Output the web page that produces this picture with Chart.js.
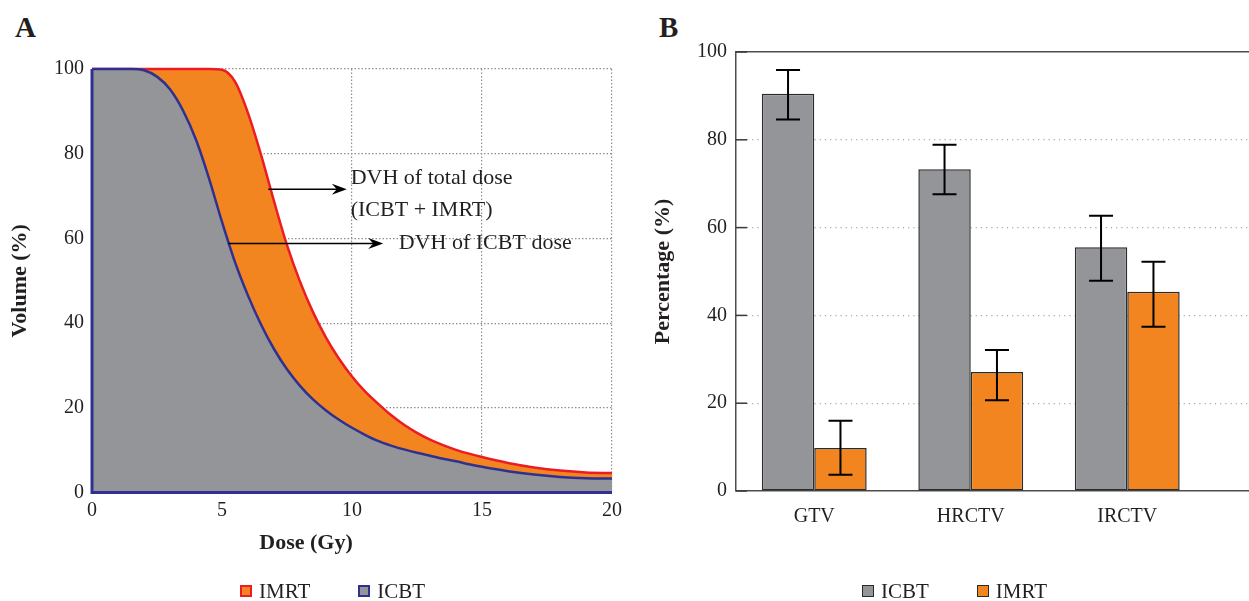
<!DOCTYPE html>
<html lang="en">
  <head>
    <meta charset="UTF-8" />
    <title>DVH and dose contribution</title>
    <script src="https://cdn.jsdelivr.net/npm/chart.js"></script>
    <style>
      html, body { margin: 0; padding: 0; background: #fff; overflow: hidden; }
      body {
        width: 1249px; height: 601px; position: relative;
        font-family: "Liberation Serif", serif; color: #231f20;
      }
      .panel-label { position: absolute; top: 11px; font-size: 29px; font-weight: bold; }
      #boxA { position: absolute; left: 0; top: 0; width: 640px; height: 601px; }
      #boxB { position: absolute; left: 640px; top: 0; width: 640px; height: 601px; }
      .legend {
        position: absolute; top: 579px; display: flex; gap: 48px;
        font-size: 21px; line-height: 24px; white-space: nowrap;
      }
      .legend .item { display: flex; align-items: center; }
      .legend .sw { display: inline-block; width: 12px; height: 12px; box-sizing: border-box; margin-right: 7px; }
    </style>
  </head>
  <body>
    <div class="panel-label" style="left: 15px">A</div>
    <div class="panel-label" style="left: 659px">B</div>
    <div id="boxA"><canvas id="chartA" width="640" height="601"></canvas></div>
    <div id="boxB"><canvas id="chartB" width="640" height="601"></canvas></div>
    <div class="legend" id="legendA" style="left: 240px"></div>
    <div class="legend" id="legendB" style="left: 862px"></div>

    <script>
      // panel A: dose-volume histogram
      const doses = [0, 0.5, 1, 1.5, 2, 2.5, 3, 3.5, 4, 4.5, 5, 5.5, 6, 6.5, 7, 7.5, 8, 8.5, 9, 9.5, 10, 10.5, 11, 11.5, 12, 12.5, 13, 13.5, 14, 14.5, 15, 16, 17, 18, 19, 20];
      const imrtVolume = [100, 100, 100, 100, 100, 100, 100, 100, 100, 100, 99.8, 97.0, 89.6, 79.8, 68.8, 58.4, 49.8, 42.6, 36.6, 31.6, 27.4, 23.9, 21.0, 18.3, 16.0, 14.1, 12.5, 11.2, 10.1, 9.2, 8.4, 7.0, 5.95, 5.2, 4.75, 4.6];
      const icbtVolume = [100, 100, 100, 100, 99.7, 98.2, 95.2, 90.2, 83.3, 74.2, 63.9, 54.4, 46.5, 39.7, 33.9, 29.1, 25.2, 22.0, 19.4, 17.2, 15.3, 13.65, 12.2, 11.1, 10.2, 9.4, 8.7, 8.0, 7.4, 6.7, 6.1, 5.05, 4.25, 3.7, 3.4, 3.3];

      // panel B: percentage per target volume (mean, error range)
      const categories = ["GTV", "HRCTV", "IRCTV"];
      const icbtMean = [90.5, 73.3, 55.5];
      const icbtLow = [84.6, 67.6, 47.9];
      const icbtHigh = [95.9, 78.9, 62.7];
      const imrtMean = [9.8, 27.1, 45.4];
      const imrtLow = [3.7, 20.7, 37.4];
      const imrtHigh = [16.0, 32.1, 52.2];

      // annotation text + arrows (data units)
      const arrowsA = [
        { x1: 6.78, x2: 9.8, y: 71.6 },
        { x1: 5.24, x2: 11.2, y: 58.8 },
      ];
      const notesA = [
        { x: 9.95, y: 74.2, text: "DVH of total dose" },
        { x: 9.95, y: 66.7, text: "(ICBT + IMRT)" },
        { x: 11.8, y: 58.8, text: "DVH of ICBT dose" },
      ];

      Chart.defaults.font.family = "'Liberation Serif', serif";
      Chart.defaults.font.size = 20;
      Chart.defaults.color = "#231f20";

      const ink = "#231f20";
      const serifBold = { family: "'Liberation Serif', serif", size: 22, weight: "bold" };

      const annotatePlugin = {
        id: "annotateA",
        afterDatasetsDraw(chart) {
          const { ctx, scales: { x, y } } = chart;
          ctx.save();
          ctx.strokeStyle = "#000";
          ctx.fillStyle = "#000";
          ctx.lineWidth = 1.5;
          arrowsA.forEach((a) => {
            const px1 = x.getPixelForValue(a.x1);
            const px2 = x.getPixelForValue(a.x2);
            const py = y.getPixelForValue(a.y);
            ctx.beginPath();
            ctx.moveTo(px1, py);
            ctx.lineTo(px2 - 8, py);
            ctx.stroke();
            ctx.beginPath();
            ctx.moveTo(px2, py);
            ctx.lineTo(px2 - 15, py - 5.5);
            ctx.lineTo(px2 - 10, py);
            ctx.lineTo(px2 - 15, py + 5.5);
            ctx.closePath();
            ctx.fill();
          });
          ctx.font = "22px 'Liberation Serif', serif";
          ctx.fillStyle = ink;
          ctx.textBaseline = "middle";
          notesA.forEach((n) => {
            ctx.fillText(n.text, x.getPixelForValue(n.x), y.getPixelForValue(n.y));
          });
          ctx.restore();
        },
      };

      // dataset 0 is drawn last, so ICBT goes first to sit on top of IMRT
      const chartA = new Chart(document.getElementById("chartA"), {
        type: "line",
        data: {
          datasets: [
            {
              // left and bottom edge of the ICBT area
              label: "",
              data: [
                { x: doses[0], y: icbtVolume[0] },
                { x: doses[0], y: 0 },
                { x: doses[doses.length - 1], y: 0 },
              ],
              borderColor: "#2e3192",
              borderWidth: 3,
              fill: false,
              pointRadius: 0,
              clip: 4,
            },
            {
              label: "ICBT",
              data: doses.map((d, i) => ({ x: d, y: icbtVolume[i] })),
              borderColor: "#2e3192",
              backgroundColor: "#939598",
              borderWidth: 2.5,
              fill: "origin",
              pointRadius: 0,
              cubicInterpolationMode: "monotone",
              clip: 4,
            },
            {
              label: "IMRT",
              data: doses.map((d, i) => ({ x: d, y: imrtVolume[i] })),
              borderColor: "#ed1c24",
              backgroundColor: "#f38521",
              borderWidth: 2.5,
              fill: "origin",
              pointRadius: 0,
              cubicInterpolationMode: "monotone",
              clip: 4,
            },
          ],
        },
        options: {
          responsive: false,
          animation: false,
          layout: { padding: { top: 69, right: 28, left: 0, bottom: 0 } },
          scales: {
            x: {
              type: "linear",
              min: 0,
              max: 20,
              ticks: { stepSize: 5, padding: 6, color: ink },
              grid: { color: "#8f8f8f", lineWidth: 1.2, drawTicks: false },
              border: { display: false, dash: [1.5, 2] },
              afterFit: (s) => { s.height = 38; },
            },
            y: {
              min: 0,
              max: 100,
              ticks: { stepSize: 20, padding: 8, color: ink },
              grid: { color: "#8f8f8f", lineWidth: 1.2, drawTicks: false },
              border: { display: false, dash: [1.5, 2] },
              title: { display: true, text: "Volume (%)", font: serifBold, color: ink, padding: { top: 7, bottom: 0 } },
              afterFit: (s) => { s.width = 92; },
            },
          },
          plugins: {
            legend: { display: false },
            tooltip: { enabled: false },
            title: {
              display: true,
              position: "bottom",
              text: "Dose (Gy)",
              font: serifBold,
              color: ink,
              padding: { top: 0, bottom: 44 },
            },
          },
        },
        plugins: [annotatePlugin],
      });

      const errorBarPlugin = {
        id: "errorBars",
        afterDatasetsDraw(chart) {
          const { ctx } = chart;
          const y = chart.scales.y;
          ctx.save();
          ctx.strokeStyle = "#000";
          ctx.lineWidth = 2;
          chart.data.datasets.forEach((ds, di) => {
            chart.getDatasetMeta(di).data.forEach((bar, i) => {
              const lo = y.getPixelForValue(ds.errorLow[i]);
              const hi = y.getPixelForValue(ds.errorHigh[i]);
              ctx.beginPath();
              ctx.moveTo(bar.x, lo); ctx.lineTo(bar.x, hi);
              ctx.moveTo(bar.x - 12, lo); ctx.lineTo(bar.x + 12, lo);
              ctx.moveTo(bar.x - 12, hi); ctx.lineTo(bar.x + 12, hi);
              ctx.stroke();
            });
          });
          ctx.restore();
        },
      };

      const innerTicksPlugin = {
        id: "innerTicks",
        afterDraw(chart) {
          const { ctx } = chart;
          const y = chart.scales.y;
          ctx.save();
          ctx.strokeStyle = "#3a3a3a";
          ctx.lineWidth = 1.5;
          y.ticks.forEach((t) => {
            const py = y.getPixelForValue(t.value);
            ctx.beginPath();
            ctx.moveTo(y.right, py);
            ctx.lineTo(y.right + 11, py);
            ctx.stroke();
          });
          ctx.restore();
        },
      };

      // plot box runs past the right edge of the page, as in the figure
      const xMaxB = -0.5 + 544 / 156.5;

      const chartB = new Chart(document.getElementById("chartB"), {
        type: "bar",
        data: {
          datasets: [
            {
              label: "ICBT",
              data: icbtMean.map((v, i) => ({ x: i, y: v })),
              errorLow: icbtLow,
              errorHigh: icbtHigh,
              backgroundColor: "#939598",
              borderColor: "#2b2b2b",
              borderWidth: 1.5,
              borderSkipped: false,
            },
            {
              label: "IMRT",
              data: imrtMean.map((v, i) => ({ x: i, y: v })),
              errorLow: imrtLow,
              errorHigh: imrtHigh,
              backgroundColor: "#f38521",
              borderColor: "#2b2b2b",
              borderWidth: 1.5,
              borderSkipped: false,
            },
          ],
        },
        options: {
          responsive: false,
          animation: false,
          categoryPercentage: 0.67,
          barPercentage: 1,
          layout: { padding: { top: 52, right: 0, left: 0, bottom: 0 } },
          scales: {
            x: {
              type: "linear",
              offset: false,
              min: -0.5,
              max: xMaxB,
              afterBuildTicks: (s) => { s.ticks = categories.map((_, i) => ({ value: i })); },
              ticks: { padding: 6, color: ink, callback: (v) => categories[v] },
              grid: { display: false },
              border: { color: "#4d4d4d", width: 1.5 },
              afterFit: (s) => { s.height = 110; },
            },
            x2: {
              type: "linear",
              position: "top",
              offset: false,
              min: -0.5,
              max: xMaxB,
              ticks: { display: false },
              grid: { display: false },
              border: { color: "#4d4d4d", width: 1.5 },
              afterFit: (s) => { s.height = 0; },
            },
            y: {
              min: 0,
              max: 100,
              ticks: { stepSize: 20, padding: 9, color: ink },
              grid: {
                color: (c) => (c.tick && (c.tick.value === 0 || c.tick.value === 100) ? "rgba(0,0,0,0)" : "#a8a8a8"),
                lineWidth: 1.2,
                drawTicks: false,
              },
              border: { color: "#4d4d4d", width: 1.5, dash: [1.2, 4] },
              title: { display: true, text: "Percentage (%)", font: serifBold, color: ink, padding: { top: 10, bottom: 0 } },
              afterFit: (s) => { s.width = 96; },
            },
          },
          plugins: {
            legend: { display: false },
            tooltip: { enabled: false },
          },
        },
        plugins: [errorBarPlugin, innerTicksPlugin],
      });

      // HTML legends built from the charts' own legend items, in the given label order
      function buildLegend(chart, id, swBorder, order) {
        const box = document.getElementById(id);
        const items = chart.options.plugins.legend.labels.generateLabels(chart).filter((it) => it.text);
        order.forEach((name) => {
          const it = items.find((l) => l.text === name);
          const item = document.createElement("span");
          item.className = "item";
          const sw = document.createElement("span");
          sw.className = "sw";
          sw.style.background = it.fillStyle;
          sw.style.border = swBorder + "px solid " + it.strokeStyle;
          item.appendChild(sw);
          item.appendChild(document.createTextNode(it.text));
          box.appendChild(item);
        });
      }
      buildLegend(chartA, "legendA", 2, ["IMRT", "ICBT"]);
      buildLegend(chartB, "legendB", 1.5, ["ICBT", "IMRT"]);
    </script>
  </body>
</html>
